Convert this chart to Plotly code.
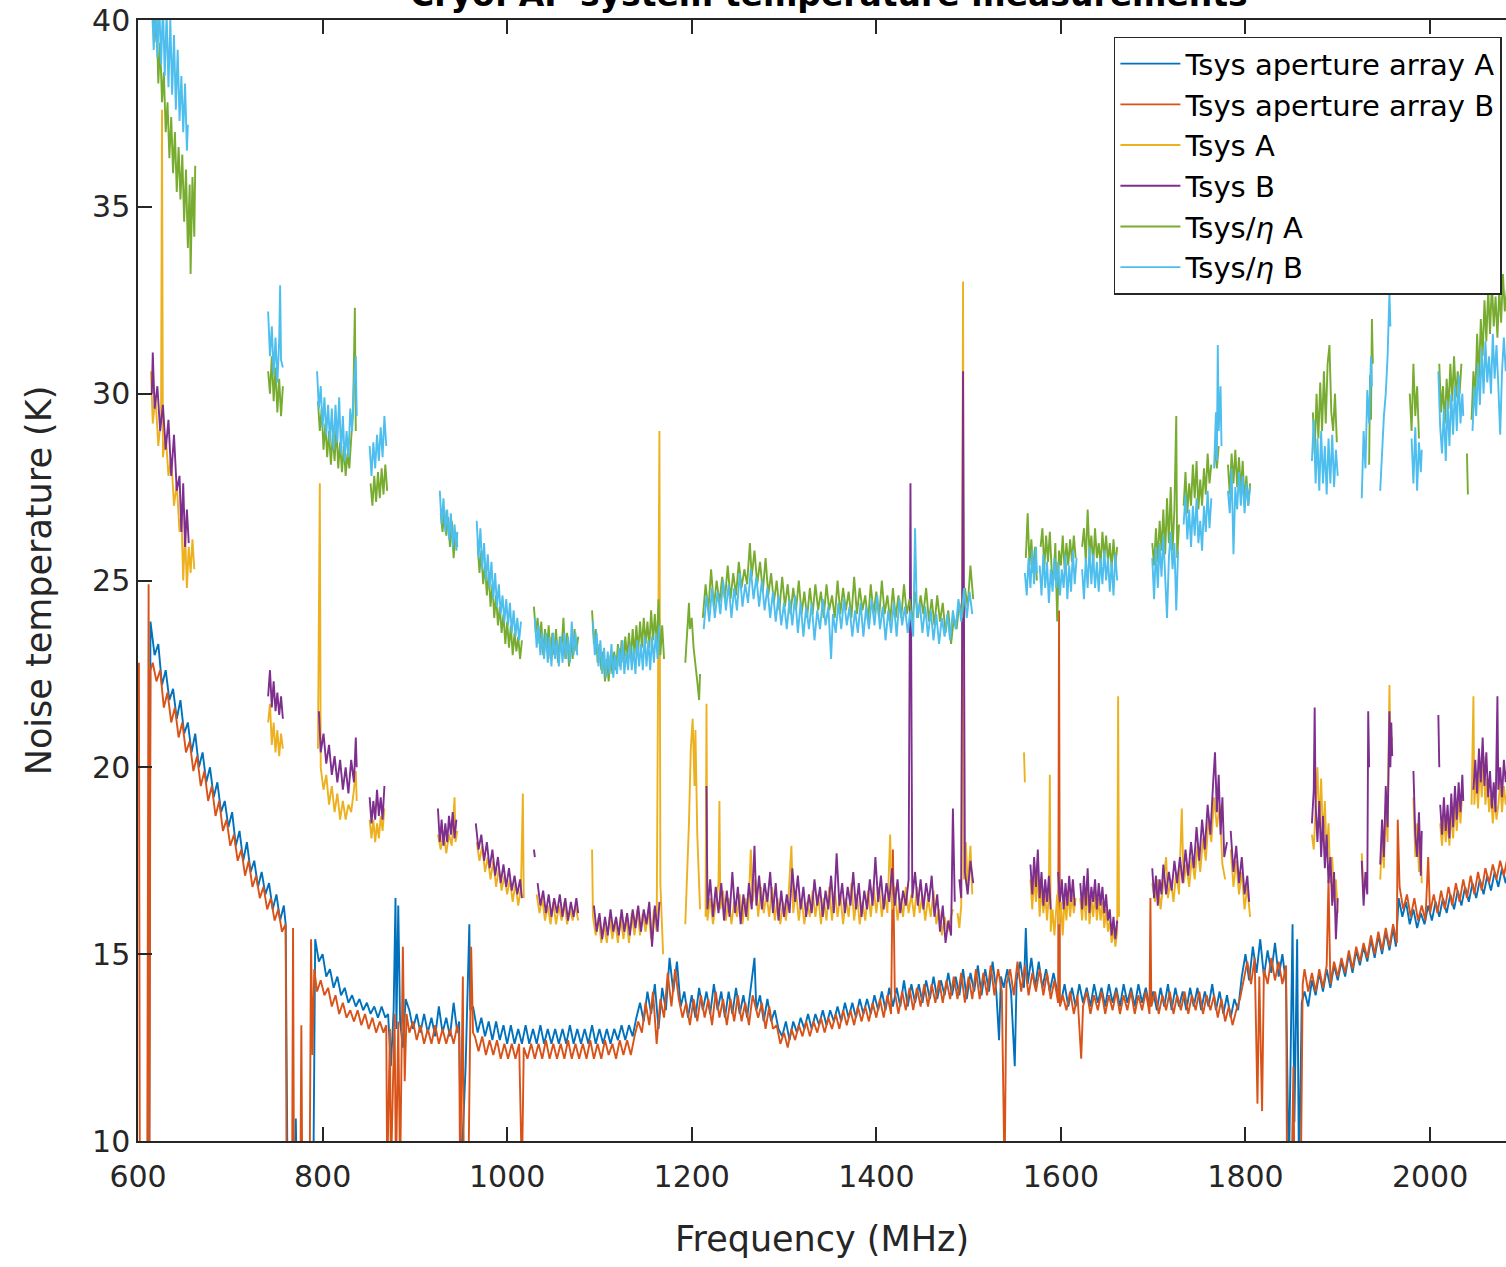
import plotly.graph_objects as go

# Frequency (MHz), temperature (K) pairs per measured series; None marks flagged (RFI) gaps.
tsys_ap_a = [
    (612, 9.0), (613.5, 23.9), (618, 23.0), (622, 23.3), (626, 22.2), (630, 22.6), (634, 21.8), (638, 22.1),
    (642, 21.3), (646, 21.8), (650, 20.9), (654, 21.2), (658, 20.4), (662, 20.9), (666, 20.0), (670, 20.4),
    (674, 19.6), (678, 20.0), (682, 19.2), (686, 19.6), (690, 18.8), (694, 19.1), (698, 18.4), (702, 18.8),
    (706, 17.9), (710, 18.3), (714, 17.5), (718, 18.0), (722, 17.2), (726, 17.5), (730, 16.8), (734, 17.2),
    (738, 16.6), (742, 16.9), (746, 16.2), (750, 16.6), (754, 15.9), (758, 16.3), (760, 15.8), (762, 9.0),
    (770, 9.0), (771, 10.6), (772, 9.0), (790, 9.0), (792, 15.4), (796, 14.8), (800, 15.0), (804, 14.4),
    (808, 14.6), (812, 14.1), (816, 14.4), (820, 13.9), (824, 14.1), (828, 13.7), (832, 13.9), (836, 13.6),
    (840, 13.8), (844, 13.5), (848, 13.7), (852, 13.4), (856, 13.6), (860, 13.3), (864, 13.6), (868, 13.3),
    (871, 13.4), (874, 12.0), (877, 13.5), (879, 16.5), (880, 13.0), (882, 16.3), (884, 13.2), (887, 12.5),
    (890, 13.8), (894, 13.5), (898, 13.0), (902, 13.4), (906, 12.9), (910, 13.4), (914, 12.9), (918, 13.3),
    (922, 12.8), (926, 13.6), (930, 12.9), (934, 13.3), (938, 12.8), (942, 13.7), (946, 12.9), (948, 13.2),
    (950, 9.0), (955, 12.0), (959, 15.8), (960, 13.5), (963, 13.6), (968, 12.9), (972, 13.3), (976, 12.8),
    (980, 13.2), (984, 12.7), (988, 13.2), (992, 12.7), (996, 13.1), (1000, 12.6), (1004, 13.1), (1008, 12.6),
    (1012, 13.0), (1016, 12.6), (1020, 13.1), (1024, 12.6), (1028, 13.0), (1032, 12.6), (1036, 13.1),
    (1040, 12.6), (1044, 13.0), (1048, 12.6), (1052, 13.0), (1056, 12.6), (1060, 13.0), (1064, 12.6),
    (1068, 13.1), (1072, 12.6), (1076, 13.0), (1080, 12.6), (1084, 13.0), (1088, 12.6), (1092, 13.1),
    (1096, 12.6), (1100, 13.0), (1104, 12.6), (1108, 13.0), (1112, 12.6), (1116, 13.0), (1120, 12.7),
    (1124, 13.1), (1128, 12.7), (1132, 13.1), (1136, 12.8), (1140, 13.3), (1144, 13.7), (1148, 13.2),
    (1152, 14.0), (1156, 13.4), (1160, 14.2), (1164, 13.0), (1168, 14.1), (1172, 13.5), (1176, 14.9),
    (1180, 14.0), (1184, 14.8), (1188, 13.6), (1192, 14.0), (1196, 13.3), (1200, 13.9), (1204, 13.3),
    (1208, 14.1), (1212, 13.5), (1216, 14.0), (1220, 13.4), (1224, 14.2), (1228, 13.5), (1232, 14.0),
    (1236, 13.3), (1240, 14.0), (1244, 13.4), (1248, 14.1), (1252, 13.4), (1256, 13.9), (1260, 13.3),
    (1264, 14.1), (1268, 14.9), (1270, 13.5), (1274, 13.9), (1278, 13.2), (1282, 13.8), (1286, 13.2),
    (1290, 13.5), (1294, 13.0), (1298, 12.8), (1302, 13.2), (1306, 12.7), (1310, 13.2), (1314, 12.9),
    (1318, 13.3), (1322, 13.0), (1326, 13.4), (1330, 13.0), (1334, 13.4), (1338, 13.1), (1342, 13.5),
    (1346, 13.1), (1350, 13.5), (1354, 13.2), (1358, 13.6), (1362, 13.2), (1366, 13.7), (1370, 13.3),
    (1374, 13.7), (1378, 13.3), (1382, 13.8), (1386, 13.4), (1390, 13.8), (1394, 13.4), (1398, 13.9),
    (1402, 13.5), (1406, 14.0), (1410, 13.5), (1414, 14.1), (1418, 13.6), (1422, 14.1), (1426, 13.6),
    (1430, 14.3), (1434, 13.6), (1438, 14.2), (1442, 13.7), (1446, 14.2), (1450, 13.7), (1454, 14.3),
    (1458, 13.8), (1462, 14.4), (1466, 13.8), (1470, 14.3), (1474, 13.9), (1478, 14.5), (1482, 13.9),
    (1486, 14.4), (1490, 13.9), (1494, 14.6), (1498, 13.8), (1502, 14.5), (1506, 14.0), (1510, 14.7),
    (1514, 13.9), (1518, 14.6), (1522, 14.0), (1526, 14.8), (1530, 14.0), (1533, 12.7), (1535, 14.4),
    (1538, 14.1), (1542, 14.6), (1546, 14.0), (1550, 12.0), (1552, 14.3), (1556, 14.8), (1560, 14.1),
    (1562, 15.7), (1564, 14.2), (1568, 14.9), (1572, 14.1), (1576, 14.8), (1580, 14.1), (1584, 14.6),
    (1588, 14.0), (1592, 14.5), (1596, 14.0), (1600, 13.7), (1604, 14.2), (1608, 13.6), (1612, 14.1),
    (1616, 13.6), (1620, 14.2), (1624, 13.7), (1628, 14.1), (1632, 13.6), (1636, 14.2), (1640, 13.7),
    (1644, 14.1), (1648, 13.6), (1652, 14.2), (1656, 13.7), (1660, 14.1), (1664, 13.6), (1668, 14.2),
    (1672, 13.7), (1676, 14.1), (1680, 13.6), (1684, 14.2), (1688, 13.7), (1692, 14.1), (1696, 13.6),
    (1700, 14.0), (1704, 13.5), (1708, 14.1), (1712, 13.6), (1716, 14.2), (1720, 13.5), (1724, 14.1),
    (1728, 13.6), (1732, 14.0), (1736, 13.5), (1740, 14.1), (1744, 13.6), (1748, 14.1), (1752, 13.5),
    (1756, 14.0), (1760, 13.6), (1764, 14.2), (1768, 13.5), (1772, 14.0), (1776, 13.4), (1780, 13.9),
    (1784, 13.3), (1788, 13.8), (1792, 13.5), (1796, 14.4), (1800, 15.0), (1804, 14.3), (1808, 15.2),
    (1812, 14.5), (1816, 15.4), (1820, 14.4), (1824, 15.1), (1828, 14.5), (1832, 15.3), (1836, 14.4),
    (1840, 15.0), (1844, 14.2), (1847, 9.0), (1851, 15.8), (1853, 10.5), (1856, 15.4), (1858, 9.0),
    (1861, 13.7), (1864, 14.0), (1868, 13.6), (1872, 14.3), (1876, 13.9), (1880, 14.5), (1884, 14.0),
    (1888, 14.6), (1892, 14.1), (1896, 14.7), (1900, 14.3), (1904, 14.8), (1908, 14.4), (1912, 15.0),
    (1916, 14.5), (1920, 15.1), (1924, 14.7), (1928, 15.2), (1932, 14.8), (1936, 15.4), (1940, 14.9),
    (1944, 15.5), (1948, 15.0), (1952, 15.6), (1956, 15.1), (1960, 15.7), (1963, 15.2), (1966, 16.5),
    (1970, 16.0), (1974, 16.4), (1978, 15.8), (1982, 16.2), (1986, 15.7), (1990, 16.1), (1994, 15.8),
    (1998, 16.3), (2002, 15.9), (2006, 16.4), (2010, 16.0), (2014, 16.5), (2018, 16.1), (2022, 16.6),
    (2026, 16.2), (2030, 16.7), (2034, 16.3), (2038, 16.8), (2042, 16.4), (2046, 16.9), (2050, 16.5),
    (2054, 17.0), (2058, 16.6), (2062, 17.1), (2066, 16.7), (2070, 17.2), (2074, 16.8), (2078, 17.3),
    (2082, 16.9), (2084, 17.2),
]

tsys_ap_b = [
    (600, 22.4), (601, 22.8), (602, 9.0), (610, 9.0), (611.5, 24.9), (612.5, 9.5), (613.5, 22.6),
    (616, 22.8), (620, 22.3), (624, 22.6), (628, 21.6), (632, 22.0), (636, 21.2), (640, 21.6), (644, 20.8),
    (648, 21.2), (652, 20.4), (656, 20.7), (660, 19.9), (664, 20.3), (668, 19.5), (672, 19.9), (676, 19.1),
    (680, 19.5), (684, 18.7), (688, 19.1), (692, 18.3), (696, 18.6), (700, 17.9), (704, 18.2), (708, 17.5),
    (712, 17.8), (716, 17.1), (720, 17.5), (724, 16.8), (728, 17.1), (732, 16.5), (736, 16.8), (740, 16.2),
    (744, 16.5), (748, 15.9), (752, 16.2), (756, 15.6), (760, 15.8), (761, 9.0), (767, 9.0), (768, 15.7),
    (769, 9.0), (776, 9.0), (777, 13.1), (778, 9.0), (786, 9.0), (787.5, 15.4), (789, 12.3), (791, 14.6),
    (794, 14.0), (798, 14.3), (802, 13.9), (806, 14.1), (810, 13.6), (814, 13.9), (818, 13.4), (822, 13.7),
    (826, 13.3), (830, 13.5), (834, 13.2), (838, 13.5), (842, 13.1), (846, 13.4), (850, 13.0), (854, 13.3),
    (858, 12.9), (862, 13.2), (866, 12.9), (869, 13.1), (870, 9.0), (873, 13.0), (874, 9.0), (878, 13.4),
    (879.5, 9.0), (882, 13.2), (884, 9.0), (887, 15.2), (889, 11.6), (891, 13.4), (894, 12.9), (898, 13.2),
    (902, 12.7), (906, 13.1), (910, 12.6), (914, 13.0), (918, 12.6), (922, 13.1), (926, 12.6), (930, 13.0),
    (934, 12.6), (938, 13.0), (942, 12.6), (946, 13.1), (948, 12.8), (949, 9.0), (952, 14.4), (953, 9.0),
    (958, 9.0), (961, 15.2), (963, 12.9), (965, 12.8), (969, 12.4), (973, 12.8), (977, 12.3), (981, 12.7),
    (985, 12.3), (989, 12.7), (993, 12.2), (997, 12.6), (1001, 12.2), (1005, 12.6), (1009, 12.2),
    (1013, 12.6), (1016, 9.0), (1018, 12.5), (1022, 12.2), (1026, 12.6), (1030, 12.2), (1034, 12.6),
    (1038, 12.2), (1042, 12.7), (1046, 12.2), (1050, 12.6), (1054, 12.2), (1058, 12.6), (1062, 12.2),
    (1066, 12.7), (1070, 12.2), (1074, 12.6), (1078, 12.2), (1082, 12.6), (1086, 12.2), (1090, 12.7),
    (1094, 12.2), (1098, 12.6), (1102, 12.2), (1106, 12.7), (1110, 12.3), (1114, 12.6), (1118, 12.2),
    (1122, 12.7), (1126, 12.3), (1130, 12.7), (1134, 12.3), (1138, 12.8), (1142, 13.2), (1146, 12.9),
    (1150, 13.7), (1154, 13.1), (1158, 14.0), (1162, 12.6), (1166, 13.8), (1170, 13.3), (1174, 14.5),
    (1178, 13.6), (1182, 14.6), (1186, 13.8), (1190, 13.3), (1194, 13.7), (1198, 13.1), (1202, 13.8),
    (1206, 13.2), (1210, 13.9), (1214, 13.3), (1218, 13.8), (1222, 13.1), (1226, 14.0), (1230, 13.3),
    (1234, 13.8), (1238, 13.1), (1242, 13.8), (1246, 13.2), (1250, 13.9), (1254, 13.2), (1258, 13.7),
    (1262, 13.1), (1266, 13.9), (1272, 13.3), (1276, 13.7), (1280, 13.0), (1284, 13.6), (1288, 13.0),
    (1292, 13.1), (1296, 12.6), (1300, 12.9), (1304, 12.5), (1308, 13.0), (1312, 12.7), (1316, 13.1),
    (1320, 12.8), (1324, 13.2), (1328, 12.8), (1332, 13.2), (1336, 12.9), (1340, 13.3), (1344, 12.9),
    (1348, 13.3), (1352, 13.0), (1356, 13.4), (1360, 13.0), (1364, 13.5), (1368, 13.1), (1372, 13.5),
    (1376, 13.1), (1380, 13.6), (1384, 13.2), (1388, 13.6), (1392, 13.2), (1396, 13.7), (1400, 13.3),
    (1404, 13.8), (1408, 13.3), (1412, 13.9), (1416, 13.4), (1418, 17.8), (1420, 14.0), (1424, 13.4),
    (1428, 14.0), (1432, 13.5), (1436, 14.1), (1440, 13.5), (1444, 14.1), (1448, 13.6), (1452, 14.2),
    (1456, 13.6), (1460, 14.2), (1464, 13.7), (1468, 14.3), (1472, 13.7), (1476, 14.3), (1480, 13.8),
    (1484, 14.4), (1488, 13.8), (1492, 14.5), (1496, 13.7), (1500, 14.4), (1504, 13.8), (1508, 14.6),
    (1512, 13.8), (1516, 14.5), (1520, 13.9), (1524, 14.7), (1528, 13.9), (1532, 14.6), (1536, 14.0),
    (1539, 9.0), (1541, 14.2), (1545, 14.6), (1549, 13.9), (1553, 14.8), (1557, 14.0), (1561, 14.7),
    (1565, 13.9), (1569, 14.5), (1573, 14.0), (1577, 14.6), (1581, 13.9), (1585, 14.5), (1589, 13.8),
    (1593, 14.3), (1597, 13.7), (1598, 24.2), (1599, 13.6), (1602, 13.9), (1606, 13.5), (1610, 14.0),
    (1614, 13.4), (1618, 13.9), (1622, 12.2), (1624, 13.6), (1628, 14.0), (1632, 13.4), (1636, 13.9),
    (1640, 13.5), (1644, 14.0), (1648, 13.4), (1652, 13.9), (1656, 13.5), (1660, 14.0), (1664, 13.4),
    (1668, 13.9), (1672, 13.5), (1676, 14.0), (1680, 13.4), (1684, 13.9), (1688, 13.5), (1692, 14.0),
    (1696, 13.4), (1697, 16.5), (1698, 13.6), (1702, 14.0), (1706, 13.4), (1710, 13.9), (1714, 13.5),
    (1718, 14.0), (1722, 13.4), (1726, 13.9), (1730, 13.5), (1734, 14.0), (1738, 13.4), (1742, 13.9),
    (1746, 13.5), (1750, 14.0), (1754, 13.4), (1758, 13.9), (1762, 13.5), (1766, 13.9), (1770, 13.3),
    (1774, 13.8), (1778, 13.2), (1782, 13.6), (1786, 13.1), (1790, 13.5), (1794, 13.8), (1798, 14.3),
    (1802, 14.8), (1806, 14.2), (1810, 14.9), (1813, 11.0), (1815, 14.4), (1818, 10.8), (1820, 14.6),
    (1824, 14.2), (1828, 14.9), (1832, 14.3), (1836, 14.8), (1840, 14.2), (1844, 14.7), (1845, 9.0),
    (1850, 9.0), (1852, 12.0), (1853, 9.0), (1860, 9.0), (1862, 14.2), (1864, 14.6), (1868, 14.0),
    (1872, 14.5), (1876, 14.0), (1880, 14.6), (1884, 14.1), (1888, 14.7), (1890, 17.0), (1892, 14.2),
    (1896, 14.8), (1900, 14.4), (1904, 14.9), (1908, 14.5), (1912, 15.1), (1916, 14.6), (1920, 15.2),
    (1924, 14.8), (1928, 15.3), (1932, 14.9), (1936, 15.5), (1940, 15.0), (1944, 15.6), (1948, 15.1),
    (1952, 15.7), (1956, 15.2), (1960, 15.8), (1964, 15.3), (1965, 18.6), (1967, 16.8), (1971, 16.2),
    (1975, 16.6), (1979, 16.0), (1983, 16.5), (1987, 15.9), (1991, 16.3), (1995, 15.9), (1998, 17.6),
    (2000, 16.1), (2004, 16.6), (2008, 16.1), (2012, 16.7), (2016, 16.2), (2020, 16.8), (2024, 16.3),
    (2028, 16.9), (2032, 16.4), (2036, 17.0), (2040, 16.5), (2044, 17.1), (2048, 16.6), (2052, 17.2),
    (2056, 16.7), (2060, 17.3), (2064, 16.9), (2068, 17.4), (2072, 17.0), (2076, 17.5), (2080, 17.1),
    (2084, 17.6),
]

tsys_a = [
    (614, 30.6), (616, 29.2), (619, 29.9), (622, 28.6), (625, 29.4), (626, 37.6), (627, 28.3), (630, 28.9),
    (633, 27.8), (636, 28.3), (639, 27.0), (642, 27.6), (645, 26.3), (647, 26.8), (649, 25.0), (651, 26.3),
    (653, 24.8), (655, 25.9), (657, 25.2), (659, 26.1), (661, 25.3), (662, None),
    (741, 21.2), (743, 21.7), (745, 20.6), (747, 21.2), (749, 20.4), (751, 21.0), (753, 20.3), (755, 20.9),
    (757, 20.5), (758, None),
    (795, 20.5), (797, 27.6), (798, 20.0), (801, 19.4), (804, 19.8), (807, 19.0), (810, 19.5), (813, 18.8),
    (816, 19.3), (819, 18.6), (822, 19.1), (825, 18.6), (828, 19.0), (831, 18.8), (834, 19.4), (836, 19.9),
    (837, 19.1), (838, None),
    (851, 18.6), (853, 18.1), (855, 18.6), (857, 18.0), (859, 18.5), (861, 18.1), (863, 18.7), (865, 18.3),
    (867, 18.9), (868, None),
    (925, 18.2), (928, 17.8), (931, 18.3), (934, 17.7), (937, 18.2), (940, 17.9), (943, 19.2), (944, 18.0),
    (946, 18.3), (947, None),
    (967, 18.0), (970, 17.5), (973, 17.9), (976, 17.2), (979, 17.6), (982, 17.0), (985, 17.5), (988, 16.8),
    (991, 17.3), (994, 16.7), (997, 17.1), (1000, 16.6), (1003, 17.0), (1006, 16.4), (1009, 16.9),
    (1012, 16.3), (1015, 16.8), (1017, 19.3), (1018, 16.5), (1019, None),
    (1032, 16.6), (1035, 16.1), (1038, 16.5), (1041, 15.9), (1044, 16.3), (1047, 15.8), (1050, 16.4),
    (1053, 15.8), (1056, 16.3), (1059, 15.9), (1062, 16.4), (1065, 15.8), (1068, 16.2), (1071, 15.9),
    (1074, 16.3), (1077, 15.9), (1078, None),
    (1092, 17.8), (1093, 16.0), (1096, 15.5), (1099, 16.0), (1102, 15.3), (1105, 15.8), (1108, 15.3),
    (1111, 16.0), (1114, 15.4), (1117, 15.9), (1120, 15.3), (1123, 16.0), (1126, 15.4), (1129, 16.0),
    (1132, 15.3), (1135, 16.1), (1138, 15.5), (1141, 16.2), (1144, 15.5), (1147, 16.1), (1150, 15.6),
    (1153, 16.2), (1156, 15.4), (1159, 16.2), (1162, 15.6), (1165, 29.0), (1166, 16.9), (1169, 15.0),
    (1170, None),
    (1193, 15.8), (1195, 17.0), (1197, 18.5), (1199, 20.5), (1201, 21.3), (1203, 19.5), (1204, 21.0),
    (1206, 18.2), (1208, 17.0), (1209, 16.2), (1210, None),
    (1215, 16.0), (1216, 21.7), (1217, 15.9), (1220, 16.5), (1223, 15.8), (1226, 16.4), (1229, 16.9),
    (1230, 19.1), (1231, 16.2), (1234, 16.7), (1237, 15.9), (1240, 16.5), (1243, 15.8), (1246, 16.4),
    (1249, 16.0), (1252, 16.6), (1255, 15.8), (1258, 16.5), (1261, 15.9), (1264, 17.8), (1266, 16.4),
    (1269, 17.0), (1272, 16.0), (1275, 16.8), (1278, 16.1), (1281, 16.6), (1284, 16.0), (1287, 16.8),
    (1290, 15.9), (1293, 16.5), (1296, 15.8), (1299, 16.4), (1302, 15.9), (1305, 16.6), (1308, 17.9),
    (1310, 16.1), (1313, 16.7), (1316, 15.9), (1319, 16.5), (1322, 15.8), (1325, 16.4), (1328, 16.0),
    (1331, 16.7), (1334, 16.0), (1337, 16.6), (1340, 15.8), (1343, 16.5), (1346, 15.9), (1349, 16.8),
    (1352, 15.9), (1355, 16.7), (1358, 16.0), (1361, 16.6), (1364, 15.8), (1367, 16.5), (1370, 16.0),
    (1373, 16.9), (1376, 15.9), (1379, 16.6), (1382, 15.8), (1385, 16.4), (1388, 15.9), (1391, 16.7),
    (1394, 16.0), (1397, 16.8), (1400, 16.1), (1403, 16.8), (1406, 16.0), (1409, 16.6), (1412, 16.1),
    (1415, 18.2), (1417, 16.2), (1420, 16.8), (1423, 15.9), (1426, 16.5), (1429, 16.0), (1432, 16.8),
    (1435, 16.1), (1438, 16.6), (1441, 16.0), (1444, 16.8), (1447, 16.1), (1450, 16.6), (1453, 15.9),
    (1456, 16.5), (1459, 16.0), (1462, 16.7), (1465, 15.8), (1468, 16.2), (1471, 15.5), (1474, 16.0),
    (1477, 15.6), (1480, 15.9), (1483, 16.2), (1485, None),
    (1488, 16.1), (1490, 15.7), (1492, 16.3), (1494, 33.0), (1495, 17.0), (1497, 18.0), (1499, 16.8),
    (1502, 17.9), (1504, 16.6), (1505, None),
    (1560, 20.4), (1561, 19.6), (1562, None),
    (1567, 17.0), (1569, 16.2), (1571, 17.1), (1573, 16.4), (1575, 17.2), (1577, 16.0), (1579, 16.8),
    (1581, 16.1), (1583, 16.6), (1585, 15.9), (1587, 16.6), (1588, 19.8), (1589, 15.6), (1591, 16.2),
    (1593, 15.5), (1596, 16.6), (1598, 15.8), (1600, 16.4), (1602, 15.5), (1604, 16.5), (1606, 15.9),
    (1608, 16.7), (1610, 16.0), (1612, 16.6), (1614, 16.1), (1616, 16.5), (1618, None),
    (1621, 16.5), (1623, 15.9), (1625, 16.7), (1627, 15.9), (1629, 16.9), (1631, 15.8), (1633, 16.5),
    (1635, 16.0), (1637, 16.6), (1639, 15.9), (1641, 16.5), (1643, 15.9), (1645, 16.4), (1647, 15.7),
    (1649, 16.2), (1651, 15.6), (1653, 15.9), (1655, 15.3), (1657, 15.7), (1659, 15.2), (1661, 15.6),
    (1662, 21.9), (1663, 16.0), (1664, None),
    (1699, 16.9), (1702, 16.4), (1705, 17.0), (1708, 16.2), (1711, 16.9), (1714, 17.6), (1716, 16.5),
    (1719, 17.0), (1722, 16.4), (1725, 17.2), (1728, 16.6), (1731, 18.9), (1733, 16.9), (1736, 17.4),
    (1739, 16.8), (1742, 17.6), (1745, 17.0), (1748, 17.9), (1751, 17.2), (1754, 18.1), (1757, 17.5),
    (1760, 18.6), (1763, 18.0), (1766, 19.2), (1769, 18.4), (1772, 19.0), (1775, 17.4), (1778, 17.0),
    (1780, None),
    (1784, 17.8), (1787, 16.8), (1790, 17.5), (1793, 16.6), (1796, 17.2), (1799, 16.2), (1802, 16.8),
    (1805, 16.0), (1806, None),
    (1872, 18.2), (1874, 17.8), (1876, 18.9), (1878, 20.0), (1880, 18.4), (1882, 19.7), (1884, 18.0),
    (1886, 19.1), (1888, 17.6), (1890, 18.5), (1892, 16.9), (1894, 17.6), (1896, 16.4), (1898, 17.0),
    (1900, 16.1), (1901, None),
    (1926, 17.7), (1928, 16.6), (1930, 17.0), (1931, None),
    (1946, 17.0), (1948, 18.0), (1950, 17.3), (1952, 19.0), (1954, 18.0), (1956, 22.2), (1957, 20.5),
    (1959, 20.8), (1960, None),
    (1982, 19.2), (1984, 17.6), (1986, 18.5), (1988, 17.2), (1990, 18.0), (1991, 16.9), (1992, None),
    (2011, 18.5), (2013, 17.9), (2015, 18.7), (2017, 18.0), (2019, 18.6), (2021, 17.9), (2023, 18.8),
    (2025, 18.1), (2027, 19.0), (2029, 18.3), (2031, 19.2), (2033, 18.5), (2035, 19.4), (2036, None),
    (2045, 19.0), (2047, 21.9), (2048, 19.0), (2050, 19.8), (2052, 18.9), (2054, 20.1), (2056, 19.2),
    (2058, 20.3), (2060, 19.0), (2062, 19.7), (2064, 18.8), (2066, 19.3), (2068, 18.5), (2070, 19.2),
    (2072, 18.6), (2074, 19.0), (2076, 19.6), (2078, 18.8), (2080, 19.5), (2082, 19.0), (2084, 19.4),
]

tsys_b = [
    (615, 30.0), (616, 31.1), (618, 29.6), (621, 30.2), (624, 29.0), (627, 29.7), (630, 28.5), (633, 29.3),
    (636, 27.8), (639, 28.9), (642, 27.4), (645, 27.8), (647, 26.3), (649, 27.6), (651, 25.9), (653, 26.9),
    (655, 26.0), (656, None),
    (741, 21.9), (743, 22.6), (745, 21.6), (747, 22.3), (749, 21.5), (751, 22.0), (753, 21.4), (755, 21.9),
    (757, 21.3), (758, None),
    (796, 21.5), (798, 20.4), (801, 20.9), (804, 20.1), (807, 20.6), (810, 19.8), (813, 20.3), (816, 19.6),
    (819, 20.2), (822, 19.4), (825, 20.0), (828, 19.3), (831, 20.2), (834, 19.6), (836, 20.8), (837, 20.0),
    (838, None),
    (851, 19.2), (853, 18.5), (855, 19.1), (857, 18.6), (859, 19.4), (861, 18.7), (863, 19.2), (865, 18.6),
    (867, 19.5), (868, None),
    (925, 18.9), (927, 18.0), (929, 18.6), (931, 17.9), (933, 18.5), (935, 18.0), (937, 18.7), (939, 18.2),
    (941, 18.8), (943, 18.1), (945, 18.6), (946, None),
    (966, 18.5), (969, 17.8), (972, 18.2), (975, 17.5), (978, 18.0), (981, 17.3), (984, 17.8), (987, 17.1),
    (990, 17.6), (993, 16.9), (996, 17.4), (999, 16.8), (1002, 17.3), (1005, 16.7), (1008, 17.1),
    (1011, 16.6), (1014, 17.0), (1016, 16.5), (1017, None),
    (1029, 17.8), (1030, 17.6), (1031, None),
    (1033, 16.9), (1036, 16.3), (1039, 16.7), (1042, 16.1), (1045, 16.6), (1048, 16.0), (1051, 16.5),
    (1054, 16.1), (1057, 16.6), (1060, 16.0), (1063, 16.5), (1066, 15.9), (1069, 16.4), (1072, 16.0),
    (1075, 16.5), (1077, 16.1), (1078, None),
    (1094, 16.3), (1097, 15.6), (1100, 16.1), (1103, 15.4), (1106, 16.0), (1109, 15.5), (1112, 16.2),
    (1115, 15.6), (1118, 16.0), (1121, 15.5), (1124, 16.2), (1127, 15.6), (1130, 16.1), (1133, 15.5),
    (1136, 16.2), (1139, 15.7), (1142, 16.3), (1145, 15.6), (1148, 16.2), (1151, 15.8), (1154, 16.4),
    (1157, 15.2), (1160, 16.3), (1163, 15.6), (1165, 16.4), (1166, None),
    (1216, 19.5), (1217, 16.2), (1220, 17.0), (1223, 16.0), (1226, 16.8), (1229, 16.1), (1232, 16.9),
    (1235, 15.9), (1238, 16.7), (1241, 16.0), (1244, 17.2), (1247, 16.1), (1250, 16.8), (1253, 15.8),
    (1256, 16.6), (1259, 16.0), (1262, 16.9), (1265, 16.2), (1268, 17.9), (1270, 16.3), (1273, 17.1),
    (1276, 16.2), (1279, 16.9), (1282, 16.4), (1285, 17.2), (1288, 16.1), (1291, 16.9), (1294, 15.9),
    (1297, 16.7), (1300, 16.0), (1303, 16.6), (1306, 16.1), (1309, 17.3), (1312, 16.4), (1315, 17.1),
    (1318, 16.2), (1321, 16.8), (1324, 16.0), (1327, 16.6), (1330, 16.1), (1333, 17.0), (1336, 16.3),
    (1339, 16.8), (1342, 16.0), (1345, 16.7), (1348, 16.2), (1351, 17.1), (1354, 16.1), (1357, 17.7),
    (1360, 16.3), (1363, 16.9), (1366, 16.1), (1369, 16.8), (1372, 16.3), (1375, 17.2), (1378, 16.2),
    (1381, 16.9), (1384, 16.0), (1387, 16.7), (1390, 16.2), (1393, 17.0), (1396, 16.3), (1399, 17.6),
    (1402, 16.4), (1405, 17.1), (1408, 16.2), (1411, 16.9), (1414, 16.4), (1417, 17.3), (1420, 16.3),
    (1423, 17.0), (1426, 16.1), (1429, 16.7), (1432, 16.3), (1435, 17.0), (1437, 27.6), (1439, 16.5),
    (1442, 17.2), (1445, 16.3), (1448, 17.0), (1451, 16.2), (1454, 16.9), (1457, 16.4), (1460, 17.1),
    (1463, 16.0), (1466, 16.6), (1469, 15.6), (1472, 16.3), (1475, 15.3), (1478, 15.9), (1481, 15.5),
    (1483, 18.9), (1485, 16.4), (1486, None),
    (1490, 17.0), (1492, 16.5), (1494, 30.6), (1496, 17.2), (1499, 16.6), (1502, 17.5), (1505, 16.9),
    (1506, None),
    (1567, 17.4), (1569, 16.6), (1571, 17.6), (1573, 16.8), (1575, 17.8), (1577, 16.5), (1579, 17.2),
    (1581, 16.3), (1583, 17.0), (1585, 16.4), (1587, 17.1), (1589, 16.2), (1590, None),
    (1597, 17.2), (1599, 16.4), (1601, 17.0), (1603, 16.2), (1605, 16.9), (1607, 16.3), (1609, 17.1),
    (1611, 16.4), (1613, 17.0), (1615, 16.3), (1616, None),
    (1621, 16.9), (1623, 16.2), (1625, 17.1), (1627, 16.3), (1629, 17.3), (1631, 16.1), (1633, 16.8),
    (1635, 16.4), (1637, 17.0), (1639, 16.2), (1641, 16.9), (1643, 16.3), (1645, 16.8), (1647, 16.1),
    (1649, 16.6), (1651, 15.9), (1653, 16.2), (1655, 15.5), (1657, 16.0), (1659, 15.4), (1661, 15.9),
    (1662, None),
    (1699, 17.3), (1701, 16.5), (1703, 17.1), (1705, 16.3), (1707, 17.0), (1709, 16.6), (1711, 17.4),
    (1714, 16.6), (1717, 17.2), (1720, 16.7), (1723, 17.5), (1726, 16.9), (1729, 17.6), (1732, 16.9),
    (1735, 17.8), (1738, 17.1), (1741, 18.0), (1744, 17.3), (1747, 18.4), (1750, 17.5), (1753, 18.6),
    (1756, 17.8), (1759, 19.0), (1762, 18.2), (1765, 19.6), (1767, 20.4), (1769, 18.8), (1771, 19.8),
    (1773, 18.2), (1775, 19.2), (1777, 17.6), (1780, 18.0), (1781, None),
    (1784, 18.3), (1787, 17.2), (1790, 17.9), (1793, 16.9), (1796, 17.6), (1799, 16.6), (1802, 17.1),
    (1804, 16.4), (1805, None),
    (1872, 18.5), (1874, 19.4), (1875, 21.6), (1876, 19.0), (1878, 18.0), (1880, 19.1), (1882, 17.6),
    (1884, 18.7), (1886, 17.3), (1888, 18.2), (1890, 16.9), (1892, 17.6), (1894, 16.3), (1896, 17.2),
    (1898, 15.4), (1900, 16.5), (1901, None),
    (1926, 17.5), (1928, 16.3), (1930, 17.2), (1932, 16.6), (1933, 21.5), (1934, 20.0), (1935, None),
    (1946, 17.4), (1948, 18.6), (1950, 17.6), (1952, 19.5), (1954, 18.4), (1955, 20.3), (1956, 21.5),
    (1957, 20.0), (1958, 21.2), (1959, 20.3), (1960, None),
    (1982, 19.9), (1984, 18.2), (1986, 17.6), (1988, 18.8), (1990, 17.1), (1991, 18.3), (1992, None),
    (2009, 21.4), (2010, 20.0), (2010.5, None),
    (2011, 19.0), (2013, 18.2), (2015, 19.2), (2017, 18.3), (2019, 19.0), (2021, 18.1), (2023, 19.3),
    (2025, 18.4), (2027, 19.5), (2029, 18.6), (2031, 19.6), (2033, 18.8), (2035, 19.8), (2036, 19.1),
    (2037, None),
    (2047, 19.4), (2049, 20.2), (2051, 19.3), (2053, 20.5), (2055, 19.6), (2057, 20.8), (2059, 19.5),
    (2061, 20.4), (2063, 19.2), (2065, 19.9), (2067, 18.9), (2069, 19.6), (2071, 18.8), (2073, 21.9),
    (2074, 19.4), (2076, 20.0), (2078, 19.2), (2080, 20.2), (2082, 19.6), (2084, 20.1),
]

tsys_eta_a = [
    (616, 40.5), (618, 39.4), (620, 40.2), (622, 38.3), (624, 39.4), (626, 37.8), (628, 38.6), (630, 37.0),
    (632, 37.8), (634, 36.3), (636, 37.4), (638, 35.9), (640, 37.0), (642, 35.4), (644, 36.6), (646, 35.2),
    (648, 36.4), (650, 34.6), (652, 36.0), (654, 33.9), (656, 35.6), (657, 33.2), (659, 35.8), (661, 34.2),
    (662, 36.1), (663, None),
    (741, 30.6), (743, 30.0), (745, 31.0), (747, 29.8), (749, 30.7), (751, 29.5), (753, 30.4), (755, 29.4),
    (757, 30.2), (758, None),
    (795, 29.8), (797, 29.0), (799, 29.6), (801, 28.5), (803, 29.2), (805, 28.3), (807, 29.0), (809, 28.1),
    (811, 28.9), (813, 28.2), (815, 29.1), (817, 28.0), (819, 28.7), (821, 27.9), (823, 28.6), (825, 27.8),
    (827, 28.4), (829, 28.0), (831, 28.8), (833, 29.5), (835, 32.3), (836, 29.0), (837, None),
    (852, 27.6), (854, 27.0), (856, 27.8), (858, 27.1), (860, 27.9), (862, 27.2), (864, 28.0), (866, 27.3),
    (868, 28.1), (870, 27.4), (871, None),
    (928, 26.8), (930, 26.3), (932, 26.9), (934, 26.2), (936, 26.7), (938, 25.9), (940, 26.6), (942, 25.6),
    (944, 26.3), (946, 25.9), (947, None),
    (968, 26.0), (970, 25.2), (972, 25.8), (974, 24.9), (976, 25.4), (978, 24.6), (980, 25.2), (982, 24.3),
    (984, 24.9), (986, 24.0), (988, 24.6), (990, 23.8), (992, 24.3), (994, 23.6), (996, 24.1), (998, 23.3),
    (1000, 23.9), (1002, 23.2), (1004, 23.8), (1006, 23.0), (1008, 23.6), (1010, 23.1), (1012, 23.5),
    (1014, 22.9), (1016, 23.4), (1017, None),
    (1029, 24.3), (1031, 23.6), (1033, 24.0), (1035, 23.3), (1037, 23.9), (1039, 23.0), (1041, 23.7),
    (1043, 23.1), (1045, 23.8), (1047, 22.9), (1049, 23.6), (1051, 23.0), (1053, 23.7), (1055, 22.8),
    (1057, 23.5), (1059, 23.2), (1061, 24.0), (1063, 22.9), (1065, 23.6), (1067, 22.7), (1069, 23.4),
    (1071, 22.9), (1073, 23.7), (1075, 23.1), (1077, 23.5), (1078, None),
    (1092, 24.2), (1094, 23.3), (1096, 23.7), (1098, 22.8), (1100, 23.3), (1102, 22.6), (1104, 23.1),
    (1106, 22.3), (1108, 22.9), (1110, 22.3), (1112, 23.0), (1114, 22.5), (1116, 23.1), (1118, 22.6),
    (1120, 23.3), (1122, 22.7), (1124, 23.4), (1126, 22.8), (1128, 23.5), (1130, 22.9), (1132, 23.6),
    (1134, 22.9), (1136, 23.7), (1138, 23.0), (1140, 23.8), (1142, 23.1), (1144, 23.9), (1146, 23.2),
    (1148, 24.0), (1150, 23.3), (1152, 23.9), (1154, 23.2), (1156, 24.2), (1158, 23.4), (1160, 24.1),
    (1162, 23.2), (1164, 24.5), (1166, 23.0), (1168, 23.8), (1170, 22.9), (1171, None),
    (1193, 22.8), (1195, 23.6), (1197, 24.4), (1198, 23.7), (1200, 24.0), (1202, 23.2), (1204, 22.8),
    (1206, 22.3), (1208, 21.8), (1209, 22.5), (1210, None),
    (1212, 24.0), (1215, 24.9), (1218, 24.2), (1221, 25.3), (1224, 24.3), (1227, 25.0), (1230, 24.4),
    (1233, 25.1), (1236, 24.5), (1239, 25.4), (1242, 24.5), (1245, 25.2), (1248, 24.6), (1251, 25.5),
    (1254, 24.8), (1257, 25.3), (1260, 24.9), (1263, 26.0), (1265, 25.1), (1268, 25.8), (1271, 24.9),
    (1274, 25.5), (1277, 24.7), (1280, 25.6), (1283, 24.6), (1286, 25.2), (1289, 24.4), (1292, 25.0),
    (1295, 24.2), (1298, 25.1), (1301, 24.3), (1304, 24.9), (1307, 24.1), (1310, 24.8), (1313, 24.2),
    (1316, 25.0), (1319, 24.1), (1322, 24.7), (1325, 24.0), (1328, 24.8), (1331, 24.1), (1334, 24.9),
    (1337, 24.2), (1340, 24.7), (1343, 24.0), (1346, 24.9), (1349, 24.2), (1352, 24.6), (1355, 24.0),
    (1358, 25.0), (1361, 24.1), (1364, 24.8), (1367, 24.2), (1370, 24.7), (1373, 24.0), (1376, 25.1),
    (1379, 24.1), (1382, 24.8), (1385, 24.2), (1388, 24.6), (1391, 23.9), (1394, 24.9), (1397, 24.1),
    (1400, 24.7), (1403, 24.0), (1406, 25.0), (1409, 24.1), (1412, 24.6), (1415, 23.9), (1418, 24.8),
    (1421, 24.0), (1424, 24.6), (1427, 24.0), (1430, 24.9), (1433, 24.1), (1436, 24.5), (1439, 23.9),
    (1442, 24.7), (1445, 24.0), (1448, 24.6), (1451, 24.1), (1454, 24.8), (1457, 23.9), (1460, 24.5),
    (1463, 23.8), (1466, 24.6), (1469, 23.9), (1472, 24.4), (1475, 23.6), (1478, 24.2), (1481, 23.3),
    (1484, 24.0), (1487, 23.7), (1490, 24.4), (1493, 24.0), (1496, 24.8), (1499, 24.3), (1502, 25.4),
    (1505, 24.5), (1506, None),
    (1562, 25.6), (1564, 26.8), (1566, 25.4), (1568, 26.1), (1570, 25.2), (1572, 25.9), (1574, 25.0),
    (1575, None),
    (1578, 25.9), (1580, 26.4), (1582, 25.3), (1584, 26.2), (1586, 25.5), (1588, 26.3), (1590, 25.3),
    (1592, 25.0), (1594, 26.0), (1596, 23.9), (1598, 25.8), (1600, 25.4), (1602, 26.2), (1604, 25.3),
    (1606, 26.0), (1608, 25.4), (1610, 26.1), (1612, 25.5), (1614, 26.2), (1616, 25.6), (1617, None),
    (1623, 25.9), (1625, 26.4), (1627, 25.5), (1629, 26.9), (1631, 25.7), (1633, 26.2), (1635, 25.4),
    (1637, 26.4), (1639, 25.6), (1641, 26.0), (1643, 25.4), (1645, 26.3), (1647, 25.6), (1649, 26.2),
    (1651, 25.5), (1653, 26.0), (1655, 25.3), (1657, 26.1), (1659, 25.4), (1661, 25.9), (1662, None),
    (1699, 26.0), (1701, 25.4), (1703, 26.4), (1705, 25.5), (1707, 26.6), (1709, 25.8), (1711, 26.9),
    (1713, 25.7), (1715, 27.2), (1717, 26.0), (1719, 27.5), (1721, 25.8), (1723, 26.9), (1725, 29.4),
    (1726, 25.6), (1728, 26.5), (1729, None),
    (1733, 27.0), (1735, 27.9), (1737, 26.8), (1739, 27.6), (1741, 27.0), (1743, 28.1), (1745, 27.2),
    (1747, 28.2), (1749, 26.9), (1751, 27.7), (1753, 27.0), (1755, 28.0), (1757, 27.3), (1759, 28.4),
    (1761, 27.6), (1763, 28.1), (1764, None),
    (1767, 28.5), (1769, 28.0), (1771, 28.6), (1772, None),
    (1781, 28.1), (1783, 27.3), (1785, 28.4), (1787, 27.6), (1789, 28.5), (1791, 27.5), (1793, 28.3),
    (1795, 27.4), (1797, 28.2), (1799, 27.1), (1801, 27.8), (1803, 27.0), (1805, 27.6), (1806, None),
    (1873, 29.5), (1875, 28.4), (1877, 30.0), (1879, 28.8), (1881, 30.3), (1883, 29.0), (1885, 30.6),
    (1887, 29.2), (1889, 30.8), (1891, 31.3), (1893, 29.5), (1895, 29.0), (1897, 30.0), (1899, 28.7),
    (1900, None),
    (1934, 28.1), (1935, 30.5), (1936, 29.3), (1937, 32.0), (1938, 30.8), (1939, None),
    (1978, 30.0), (1980, 29.0), (1982, 30.8), (1984, 29.4), (1986, 30.2), (1988, 28.8), (1989, None),
    (2010, 30.8), (2012, 29.5), (2014, 30.2), (2016, 29.2), (2018, 30.4), (2020, 29.6), (2022, 30.8),
    (2024, 29.8), (2026, 31.0), (2028, 29.9), (2030, 30.6), (2032, 30.0), (2034, 30.8), (2035, None),
    (2040, 28.4), (2041, 27.3), (2042, None),
    (2045, 29.3), (2047, 30.6), (2049, 29.9), (2051, 31.6), (2053, 30.4), (2055, 32.0), (2057, 31.0),
    (2059, 32.5), (2061, 31.4), (2063, 32.8), (2065, 31.6), (2067, 33.0), (2069, 31.8), (2071, 32.6),
    (2073, 31.5), (2075, 32.8), (2077, 31.9), (2079, 33.2), (2081, 32.2), (2084, 33.0),
]

tsys_eta_b = [
    (615, 40.5), (617, 39.2), (619, 40.5), (621, 39.0), (623, 40.5), (625, 38.8), (627, 40.4), (629, 38.5),
    (631, 40.2), (633, 38.2), (635, 40.0), (637, 38.0), (639, 39.6), (641, 37.6), (643, 39.2), (645, 37.3),
    (647, 38.5), (649, 37.0), (651, 38.3), (653, 36.5), (654, 37.2), (655, None),
    (741, 32.2), (743, 31.0), (745, 31.8), (747, 30.5), (749, 31.5), (751, 30.3), (753, 31.4), (754, 32.9),
    (755, 30.9), (757, 30.7), (758, None),
    (794, 30.6), (796, 29.6), (798, 30.2), (800, 29.1), (802, 29.9), (804, 28.9), (806, 29.7), (808, 28.7),
    (810, 29.6), (812, 28.5), (814, 29.7), (816, 28.7), (818, 29.9), (820, 28.4), (822, 29.4), (824, 28.2),
    (826, 29.0), (828, 28.3), (830, 29.6), (832, 29.0), (834, 30.3), (836, 31.0), (837, 29.4), (838, None),
    (851, 28.6), (853, 27.8), (855, 28.7), (857, 28.0), (859, 28.9), (861, 28.2), (863, 29.1), (865, 28.3),
    (867, 29.4), (869, 28.6), (870, None),
    (927, 27.4), (929, 26.5), (931, 27.2), (933, 26.3), (935, 26.9), (937, 26.1), (939, 26.8), (941, 25.9),
    (943, 26.5), (945, 25.8), (946, 26.3), (947, None),
    (967, 26.6), (969, 25.6), (971, 26.4), (973, 25.3), (975, 26.0), (977, 25.0), (979, 25.7), (981, 24.8),
    (983, 25.5), (985, 24.5), (987, 25.2), (989, 24.3), (991, 24.9), (993, 24.1), (995, 24.6), (997, 23.9),
    (999, 24.5), (1001, 23.8), (1003, 24.4), (1005, 23.6), (1007, 24.2), (1009, 23.5), (1011, 24.0),
    (1013, 23.4), (1015, 23.9), (1016, None),
    (1030, 24.0), (1032, 23.2), (1034, 23.8), (1036, 23.0), (1038, 23.6), (1040, 22.9), (1042, 23.6),
    (1044, 22.8), (1046, 23.5), (1048, 22.7), (1050, 23.6), (1052, 22.9), (1054, 23.4), (1056, 22.7),
    (1058, 23.5), (1060, 22.8), (1062, 23.6), (1064, 22.9), (1066, 23.5), (1068, 22.8), (1070, 23.9),
    (1072, 23.0), (1074, 23.6), (1076, 23.0), (1077, None),
    (1093, 23.9), (1095, 23.0), (1097, 23.6), (1099, 22.7), (1101, 23.4), (1103, 22.5), (1105, 23.2),
    (1107, 22.4), (1109, 23.1), (1111, 22.5), (1113, 23.3), (1115, 22.4), (1117, 23.0), (1119, 22.5),
    (1121, 23.2), (1123, 22.6), (1125, 23.4), (1127, 22.5), (1129, 23.1), (1131, 22.6), (1133, 23.3),
    (1135, 22.6), (1137, 23.2), (1139, 22.5), (1141, 23.4), (1143, 22.7), (1145, 23.3), (1147, 22.6),
    (1149, 23.5), (1151, 22.7), (1153, 23.4), (1155, 22.6), (1157, 23.5), (1159, 22.8), (1161, 23.6),
    (1163, 22.9), (1165, 23.8), (1166, None),
    (1213, 23.7), (1216, 24.6), (1219, 23.9), (1222, 24.8), (1225, 24.0), (1228, 24.7), (1231, 24.1),
    (1234, 25.0), (1237, 24.2), (1240, 24.9), (1243, 24.0), (1246, 24.8), (1249, 24.2), (1252, 25.2),
    (1255, 24.3), (1258, 24.9), (1261, 24.4), (1264, 25.3), (1267, 24.5), (1270, 25.1), (1273, 24.3),
    (1276, 25.0), (1279, 24.2), (1282, 24.8), (1285, 24.0), (1288, 24.7), (1291, 23.9), (1294, 24.6),
    (1297, 23.8), (1300, 24.4), (1303, 23.7), (1306, 24.5), (1309, 23.8), (1312, 24.6), (1315, 23.6),
    (1318, 24.4), (1321, 23.5), (1324, 24.3), (1327, 23.7), (1330, 24.4), (1333, 23.4), (1336, 24.2),
    (1339, 23.7), (1342, 24.5), (1345, 23.8), (1348, 24.3), (1351, 22.9), (1353, 24.1), (1356, 23.6),
    (1359, 24.4), (1362, 23.7), (1365, 24.5), (1368, 23.8), (1371, 24.3), (1374, 23.5), (1377, 24.2),
    (1380, 23.6), (1383, 24.4), (1386, 23.5), (1389, 24.3), (1392, 23.7), (1395, 24.5), (1398, 23.8),
    (1401, 24.6), (1404, 23.7), (1407, 24.3), (1410, 23.4), (1413, 24.2), (1416, 23.6), (1419, 24.4),
    (1422, 23.5), (1425, 24.5), (1428, 23.8), (1431, 24.3), (1434, 23.6), (1437, 24.2), (1440, 23.5),
    (1442, 26.4), (1444, 24.0), (1447, 24.4), (1450, 23.6), (1453, 24.3), (1456, 23.5), (1459, 24.2),
    (1462, 23.4), (1465, 24.1), (1468, 23.3), (1471, 24.0), (1474, 23.5), (1477, 24.1), (1480, 23.4),
    (1483, 24.2), (1486, 23.7), (1489, 24.5), (1492, 23.9), (1495, 24.8), (1498, 24.0), (1501, 24.7),
    (1504, 24.1), (1505, None),
    (1561, 25.2), (1563, 24.6), (1565, 25.6), (1567, 24.8), (1569, 25.8), (1571, 24.9), (1573, 25.9),
    (1574, 25.2), (1575, None),
    (1577, 25.4), (1579, 24.6), (1581, 25.7), (1583, 24.8), (1585, 25.5), (1587, 24.4), (1589, 25.3),
    (1591, 24.7), (1593, 25.6), (1595, 24.8), (1597, 25.5), (1599, 24.6), (1601, 25.3), (1603, 24.8),
    (1605, 25.7), (1607, 24.5), (1609, 25.4), (1611, 24.7), (1613, 25.8), (1615, 24.9), (1617, 25.6),
    (1618, None),
    (1623, 25.3), (1625, 24.5), (1627, 25.6), (1629, 24.8), (1631, 25.9), (1633, 24.9), (1635, 25.7),
    (1637, 24.8), (1639, 25.5), (1641, 24.7), (1643, 25.6), (1645, 24.9), (1647, 25.8), (1649, 25.0),
    (1651, 25.6), (1653, 24.7), (1655, 25.5), (1657, 24.6), (1659, 25.7), (1661, 25.0), (1662, None),
    (1699, 25.6), (1701, 24.5), (1703, 25.9), (1705, 24.8), (1707, 26.0), (1709, 25.1), (1711, 26.2),
    (1713, 25.0), (1715, 24.0), (1717, 25.6), (1719, 26.3), (1721, 25.3), (1723, 26.0), (1725, 24.2),
    (1727, 25.8), (1728, None),
    (1733, 26.5), (1735, 27.3), (1737, 26.1), (1739, 26.9), (1741, 25.9), (1743, 27.0), (1745, 26.2),
    (1747, 27.2), (1749, 26.0), (1751, 26.6), (1753, 25.8), (1755, 27.0), (1757, 26.3), (1759, 27.4),
    (1761, 26.4), (1763, 27.2), (1764, None),
    (1766, 28.0), (1768, 29.5), (1769, 28.2), (1770, 31.3), (1771, 29.0), (1773, 30.2), (1774, 28.6),
    (1775, None),
    (1781, 27.4), (1783, 26.8), (1785, 28.0), (1787, 25.7), (1789, 27.5), (1791, 26.9), (1793, 27.9),
    (1795, 27.0), (1797, 27.8), (1799, 26.8), (1801, 27.6), (1803, 27.0), (1805, 27.5), (1806, None),
    (1872, 28.2), (1874, 29.3), (1876, 27.6), (1878, 28.8), (1880, 27.4), (1882, 29.0), (1884, 27.6),
    (1886, 28.6), (1888, 27.3), (1890, 28.8), (1892, 27.6), (1894, 28.9), (1896, 27.5), (1898, 28.5),
    (1900, 27.8), (1901, None),
    (1926, 27.2), (1928, 29.0), (1930, 28.0), (1932, 30.1), (1934, 29.2), (1936, 31.0), (1937, 30.2),
    (1938, None),
    (1946, 27.4), (1948, 28.6), (1950, 29.4), (1952, 30.0), (1954, 31.0), (1956, 32.7), (1957, 31.8),
    (1958, None),
    (1980, 28.8), (1982, 27.6), (1984, 29.1), (1986, 27.4), (1988, 28.7), (1990, 27.9), (1991, 28.5),
    (1992, None),
    (2009, 30.6), (2011, 29.1), (2013, 28.4), (2015, 29.6), (2017, 28.2), (2019, 29.8), (2021, 28.6),
    (2023, 30.0), (2025, 28.9), (2027, 30.2), (2029, 29.0), (2031, 30.5), (2033, 29.2), (2035, 30.0),
    (2036, 29.4), (2037, None),
    (2046, 29.0), (2048, 30.2), (2050, 29.4), (2052, 30.8), (2054, 29.7), (2056, 31.2), (2058, 30.0),
    (2060, 31.4), (2062, 30.3), (2064, 31.0), (2066, 30.0), (2068, 31.6), (2070, 30.4), (2072, 31.3),
    (2074, 30.2), (2076, 28.9), (2078, 30.6), (2080, 31.5), (2082, 30.6), (2084, 31.2),
]

series_names = [
    "Tsys aperture array A",
    "Tsys aperture array B",
    "Tsys A",
    "Tsys B",
    "Tsys/<i>η</i> A",
    "Tsys/<i>η</i> B",
]
series_colors = ["#0072BD", "#D95319", "#EDB120", "#7E2F8E", "#77AC30", "#4DBEEE"]
x_ticks = [600, 800, 1000, 1200, 1400, 1600, 1800, 2000]
y_ticks = [10, 15, 20, 25, 30, 35, 40]

FONT = "DejaVu Sans, Verdana, sans-serif"
AXIS_COLOR = "#262626"

fig = go.Figure()
for name, color, data in zip(
    series_names,
    series_colors,
    [tsys_ap_a, tsys_ap_b, tsys_a, tsys_b, tsys_eta_a, tsys_eta_b],
):
    xs = [p[0] for p in data]
    ys = [p[1] for p in data]
    fig.add_trace(
        go.Scatter(
            x=xs,
            y=ys,
            mode="lines",
            name=name,
            line=dict(color=color, width=1.9),
            connectgaps=False,
        )
    )

fig.update_layout(
    width=1506,
    height=1267,
    margin=dict(l=138, r=0, t=20, b=126),
    paper_bgcolor="white",
    plot_bgcolor="white",
    font=dict(family=FONT, color=AXIS_COLOR, size=30),
    showlegend=True,
    legend=dict(
        x=0.997,
        xanchor="right",
        y=0.985,
        yanchor="top",
        bgcolor="white",
        bordercolor=AXIS_COLOR,
        borderwidth=1.5,
        font=dict(family=FONT, size=29, color="#000000"),
        itemwidth=60,
        tracegroupgap=0,
    ),
    annotations=[
        dict(
            text="<b>Cryo. AP system temperature measurements</b>",
            xref="paper",
            yref="paper",
            x=0.505,
            y=1.0036,
            xanchor="center",
            yanchor="bottom",
            showarrow=False,
            font=dict(family=FONT, size=33, color="#000000"),
        )
    ],
)

fig.update_xaxes(
    range=[600, 2082.3],
    tickvals=x_ticks,
    ticktext=[str(v) for v in x_ticks],
    ticks="inside",
    ticklen=14,
    tickwidth=1.5,
    tickcolor=AXIS_COLOR,
    showline=True,
    linecolor=AXIS_COLOR,
    linewidth=1.5,
    mirror="ticks",
    showgrid=False,
    zeroline=False,
    tickfont=dict(size=30),
    ticklabelstandoff=8,
    title=dict(text="Frequency (MHz)", font=dict(size=35), standoff=34),
)
fig.update_yaxes(
    range=[10, 40],
    tickvals=y_ticks,
    ticktext=[str(v) for v in y_ticks],
    ticks="inside",
    ticklen=14,
    tickwidth=1.5,
    tickcolor=AXIS_COLOR,
    showline=True,
    linecolor=AXIS_COLOR,
    linewidth=1.5,
    mirror=False,
    showgrid=False,
    zeroline=False,
    tickfont=dict(size=30),
    title=dict(text="Noise temperature (K)", font=dict(size=35), standoff=30),
)

fig.write_html("out.html")
